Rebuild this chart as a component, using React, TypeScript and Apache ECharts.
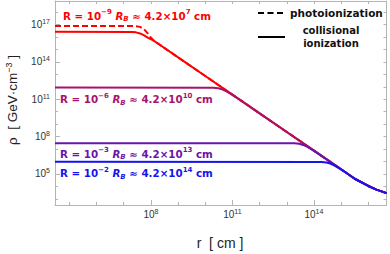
import React, { useEffect, useRef } from "react";
import * as echarts from "echarts";

// Axis ranges in log10 units
const X_MIN = 4.47;
const X_MAX = 16.67;
const Y_MIN = 2.5;
const Y_MAX = 18.9;

const xMajorTicks = [8, 11, 14];
const xMinorTicks = [5, 6, 7, 9, 10, 12, 13, 15, 16];
const yMajorTicks = [5, 8, 11, 14, 17];
const yMinorTicks = [3, 4, 6, 7, 9, 10, 12, 13, 15, 16, 18];

// Common power-law tail: log10 r [cm], log10 rho [GeV cm^-3]
const tailLogR = [8.3, 9, 10, 11, 12, 13, 14, 15, 15.5, 16.0, 16.3, 16.67];
const tailLogRho = [15.42, 14.37, 12.87, 11.37, 9.87, 8.37, 6.87, 5.37, 4.61, 4.03, 3.74, 3.45];

// Plateau + knee for each R
const redDashLogR = [4.47, 7.4, 7.6, 7.75, 7.9, 8.0, 8.1];
const redDashLogRho = [16.9, 16.89, 16.82, 16.62, 16.25, 15.95, 15.72];

const redLogR = [4.47, 7.3, 7.45, 7.6, 7.75, 7.9, 8.1];
const redLogRho = [16.42, 16.41, 16.38, 16.29, 16.13, 15.93, 15.71];

const magLogR = [4.47, 10.3, 10.48, 10.62, 10.78, 10.95, 11.2];
const magLogRho = [11.94, 11.93, 11.89, 11.8, 11.64, 11.42, 11.06];

const purLogR = [4.47, 13.28, 13.46, 13.6, 13.76, 13.93, 14.2];
const purLogRho = [7.47, 7.46, 7.42, 7.33, 7.17, 6.95, 6.57];

const bluLogR = [4.47, 14.28, 14.46, 14.6, 14.76, 14.93, 15.2];
const bluLogRho = [5.97, 5.96, 5.92, 5.83, 5.67, 5.45, 5.07];

const RED = "#ff0000";
const MAG = "#a5136e";
const PUR = "#6a14aa";
const BLU = "#1414f0";

function curve(headR: number[], headRho: number[]) {
  const pts: number[][] = headR.map((r, i) => [r, headRho[i]]);
  const last = headR[headR.length - 1];
  tailLogR.forEach((r, i) => {
    if (r > last) pts.push([r, tailLogRho[i]]);
  });
  return pts;
}

const tickRich = {
  b: { fontSize: 10, fontFamily: "Liberation Sans", color: "#333", lineHeight: 13 },
  s: { fontSize: 7, fontFamily: "Liberation Sans", color: "#333", verticalAlign: "top", lineHeight: 8 },
};

const ANN_FS = 10.3;
function annRich(color: string) {
  const base = { fill: color, fontFamily: "DejaVu Sans", fontWeight: "bold" };
  return {
    n: { ...base, fontSize: ANN_FS, lineHeight: 14 },
    s: { ...base, fontSize: 7, lineHeight: 7, verticalAlign: "top" },
    i: { ...base, fontSize: ANN_FS, lineHeight: 14, fontStyle: "italic" },
    u: { ...base, fontSize: 7, lineHeight: 7, verticalAlign: "bottom", fontStyle: "italic" },
  };
}

function annText(rExp: string, rbMant: string, rbExp: string) {
  return `{n|R = 10}{s|−${rExp}}{n| }{i|R}{u|B}{n| ≈ ${rbMant}×10}{s|${rbExp}}{n| cm}`;
}

const annotations = [
  { x: 63, y: 15.5, color: RED, rExp: "9", mant: "4.2", exp: "7" },
  { x: 60, y: 99, color: MAG, rExp: "6", mant: "4.2", exp: "10" },
  { x: 60, y: 153.5, color: PUR, rExp: "3", mant: "4.2", exp: "13" },
  { x: 60, y: 173.3, color: BLU, rExp: "2", mant: "4.2", exp: "14" },
];

const FRAME = "#b4b4b4";
const LEG_FONT = "bold 10.5px 'DejaVu Sans'";
const LEG_FONT2 = "bold 10px 'DejaVu Sans'";

export default function App() {
  const ref = useRef<HTMLDivElement>(null);
  useEffect(() => {
    document.body.style.margin = "0";
    if (!ref.current) return;
    const chart = echarts.init(ref.current, undefined, { renderer: "svg" });

    const axisBase = (min: number, max: number) => ({
      type: "value" as const,
      min,
      max,
      splitLine: { show: false },
    });

    const option: any = {
      animation: false,
      grid: { left: 55, right: 3.5, top: 1, bottom: 49, containLabel: false },
      xAxis: [
        {
          ...axisBase(X_MIN, X_MAX),
          position: "bottom",
          axisLine: { show: true, lineStyle: { color: FRAME, width: 1 } },
          axisTick: { show: true, inside: true, length: 5, customValues: xMajorTicks, lineStyle: { color: FRAME } },
          axisLabel: {
            show: true,
            customValues: xMajorTicks,
            margin: 3,
            formatter: (v: number) => `{b|10}{s|${v}}`,
            rich: tickRich,
          },
        },
        {
          ...axisBase(X_MIN, X_MAX),
          position: "bottom",
          axisLine: { show: false },
          axisTick: { show: true, inside: true, length: 3, customValues: xMinorTicks, lineStyle: { color: FRAME } },
          axisLabel: { show: false },
        },
        {
          ...axisBase(X_MIN, X_MAX),
          position: "top",
          axisLine: { show: true, lineStyle: { color: FRAME, width: 1 } },
          axisTick: { show: true, inside: true, length: 3, customValues: [...xMajorTicks, ...xMinorTicks], lineStyle: { color: FRAME } },
          axisLabel: { show: false },
        },
      ],
      yAxis: [
        {
          ...axisBase(Y_MIN, Y_MAX),
          position: "left",
          axisLine: { show: true, lineStyle: { color: FRAME, width: 1 } },
          axisTick: { show: true, inside: true, length: 5, customValues: yMajorTicks, lineStyle: { color: FRAME } },
          axisLabel: {
            show: true,
            customValues: yMajorTicks,
            margin: 5,
            formatter: (v: number) => `{b|10}{s|${v}}`,
            rich: tickRich,
          },
        },
        {
          ...axisBase(Y_MIN, Y_MAX),
          position: "left",
          axisLine: { show: false },
          axisTick: { show: true, inside: true, length: 3, customValues: yMinorTicks, lineStyle: { color: FRAME } },
          axisLabel: { show: false },
        },
        {
          ...axisBase(Y_MIN, Y_MAX),
          position: "right",
          axisLine: { show: true, lineStyle: { color: FRAME, width: 1 } },
          axisTick: { show: true, inside: true, length: 3, customValues: [...yMajorTicks, ...yMinorTicks], lineStyle: { color: FRAME } },
          axisLabel: { show: false },
        },
      ],
      series: [
        { data: curve(redDashLogR, redDashLogRho), color: RED, dash: [6, 3] },
        { data: curve(redLogR, redLogRho), color: RED },
        { data: curve(magLogR, magLogRho), color: MAG },
        { data: curve(purLogR, purLogRho), color: PUR },
        { data: curve(bluLogR, bluLogRho), color: BLU },
      ].map((s) => ({
        type: "line",
        xAxisIndex: 0,
        yAxisIndex: 0,
        data: s.data,
        showSymbol: false,
        symbol: "none",
        silent: true,
        lineStyle: { color: s.color, width: 2, type: (s as any).dash ?? "solid" },
      })),
      graphic: [
        ...annotations.map((a) => ({
          type: "text",
          x: a.x,
          y: a.y,
          silent: true,
          style: {
            text: annText(a.rExp, a.mant, a.exp),
            rich: annRich(a.color),
            verticalAlign: "middle",
            align: "left",
          },
        })),
        // legend
        {
          type: "line",
          shape: { x1: 258, y1: 13, x2: 284, y2: 13 },
          style: { stroke: "#000", lineWidth: 2, lineDash: [6, 3.5] },
        },
        {
          type: "line",
          shape: { x1: 258, y1: 37, x2: 285, y2: 37 },
          style: { stroke: "#000", lineWidth: 2 },
        },
        {
          type: "text",
          x: 290,
          y: 13,
          style: { text: "photoionization", fill: "#111", font: LEG_FONT, align: "left", verticalAlign: "middle" },
        },
        {
          type: "text",
          x: 331,
          y: 37,
          style: {
            text: "collisional\nionization",
            fill: "#111",
            font: LEG_FONT2,
            lineHeight: 12.2,
            align: "center",
            verticalAlign: "middle",
          },
        },
        // axis titles
        {
          type: "text",
          x: 220,
          y: 243,
          style: {
            text: "r  [ cm ]",
            fill: "#222",
            font: "14px 'Liberation Sans'",
            align: "center",
            verticalAlign: "middle",
          },
        },
        {
          type: "text",
          x: 12,
          y: 100,
          rotation: Math.PI / 2,
          style: {
            text: "{a|ρ  [ GeV·cm}{s|−3}{a| ]}",
            rich: {
              a: { fill: "#222", fontSize: 13.5, fontFamily: "Liberation Sans", lineHeight: 16 },
              s: { fill: "#222", fontSize: 9, fontFamily: "Liberation Sans", lineHeight: 10, verticalAlign: "top" },
            },
            align: "center",
            verticalAlign: "middle",
          },
        },
      ],
    };
    chart.setOption(option);
    return () => chart.dispose();
  }, []);
  return <div ref={ref} style={{ width: 390, height: 254 }} />;
}
